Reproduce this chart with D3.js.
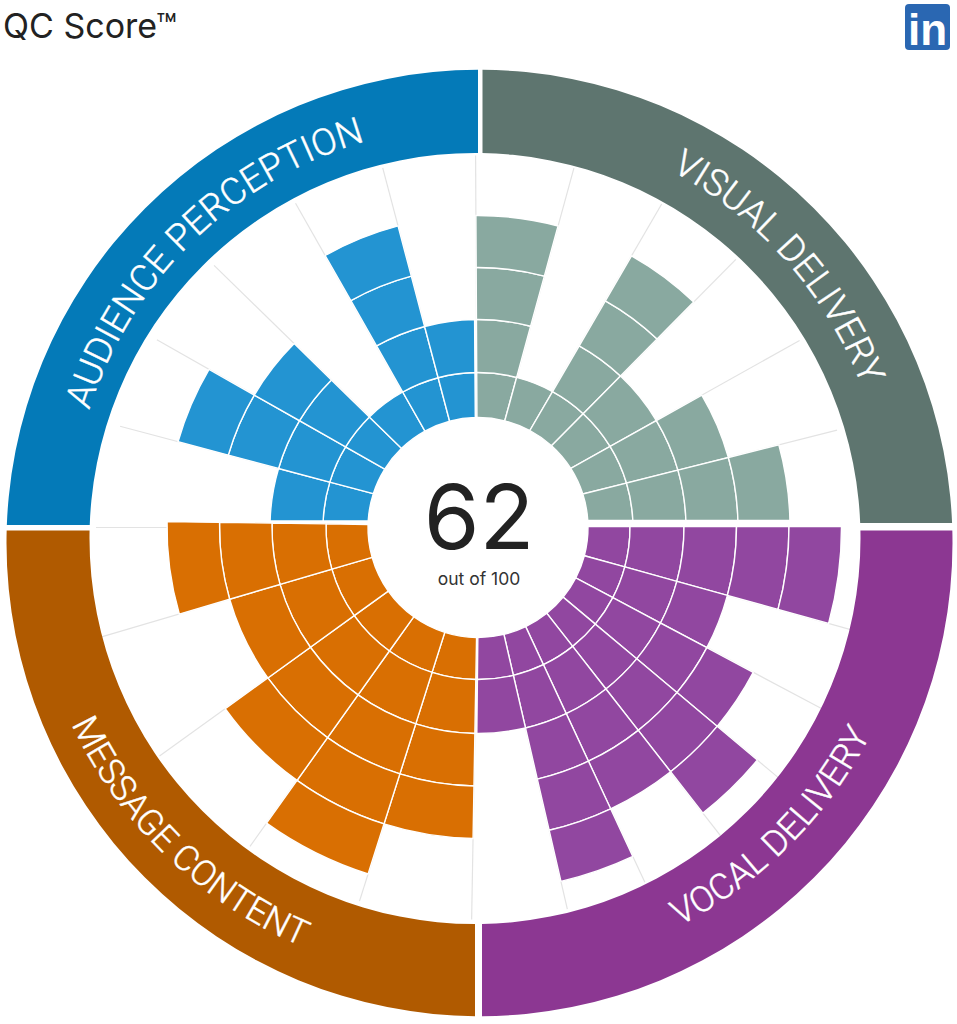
<!DOCTYPE html>
<html>
<head>
<meta charset="utf-8">
<title>QC Score</title>
<script src="https://cdn.jsdelivr.net/npm/d3@7"></script>
<style>
    body { margin: 0; background: #fff; }
    svg { display: block; }
    text { font-family: Inter, "Noto Sans", sans-serif; }
    .ring-label { font-family: Roboto, sans-serif; font-weight: 300; fill: #fff; stroke: #fff; stroke-width: 0.4; }
</style>
</head>
<body>
<div id="chart"></div>
<script>
// how many blocks each spoke fills, clockwise inside its category
const visualLevels = [4, 1, 4, 2, 3, 4];
const vocalLevels = [5, 3, 4, 5, 4, 5, 2];
const messageLevels = [4, 5, 4, 3, 4];
const audienceLevels = [2, 4, 3, 1, 4, 2];

const categoryNames = ["VISUAL DELIVERY", "VOCAL DELIVERY", "MESSAGE CONTENT", "AUDIENCE PERCEPTION"];
const levelSteps = [0, 1, 2, 3, 4, 5];
const score = "62";
const scoreCaption = "out of 100";

const width = 957, height = 1024;
const center = { x: 478, y: 527.5 };
const topRadii = [110, 155, 208, 260, 312, 364];
const bottomRadii = [110, 152, 206, 258.5, 311, 363.5];
const deg = Math.PI / 180;

const topScale = d3.scaleLinear().domain(levelSteps).range(topRadii);
const bottomScale = d3.scaleLinear().domain(levelSteps).range(bottomRadii);

// the spokes do not quite meet at the circle centre in the original, so each group has its own origin
const groups = [
    { name: categoryNames[0], levels: visualLevels, edges: [-0.3, 15.3, 30.2, 44.7, 60.8, 75.9, 90],
      origin: { x: 477.5, y: 520.5 }, r: topScale, gridEnd: 372,
      ring: "#5e756f", bar: "#89a9a0", clip: [482.5, 60, 480, 463], labelAt: 48.5, labelR: 411, labelSize: 37, flip: false },
    { name: categoryNames[1], levels: vocalLevels, edges: [90, 105.5, 118, 130, 142, 155, 167, 180.6],
      origin: { x: 479, y: 526.5 }, r: bottomScale, gridEnd: 392,
      ring: "#8c3792", bar: "#9147a0", clip: [482, 530.5, 480, 500], labelAt: 135, labelR: 441, labelSize: 35.5, flip: true },
    { name: categoryNames[2], levels: messageLevels, edges: [181, 197.6, 215.5, 234.2, 253.6, 270.8],
      origin: { x: 478.5, y: 526 }, r: bottomScale, gridEnd: 392,
      ring: "#b05a00", bar: "#d96f02", clip: [0, 530.5, 475, 500], labelAt: 224, labelR: 449, labelSize: 35.5, flip: true },
    { name: categoryNames[3], levels: audienceLevels, edges: [270, 284.9, 299.6, 314.3, 330.4, 345.2, 359.6],
      origin: { x: 476, y: 521 }, r: topScale, gridEnd: 372,
      ring: "#047ab8", bar: "#2394d2", clip: [0, 60, 478, 465], labelAt: -44.2, labelR: 408, labelSize: 37, flip: false }
];

const svg = d3.select("#chart").append("svg")
    .attr("width", width)
    .attr("height", height);

// point where a ray from the group origin crosses the circle of radius r round the centre
function crossing(origin, angle, r) {
    const dx = Math.sin(angle * deg), dy = -Math.cos(angle * deg);
    const ox = origin.x - center.x, oy = origin.y - center.y;
    const b = ox * dx + oy * dy;
    const t = -b + Math.sqrt(b * b - (ox * ox + oy * oy - r * r));
    return [origin.x + t * dx, origin.y + t * dy];
}

function thetaOf(point) {
    return Math.atan2(point[1] - center.y, point[0] - center.x);
}

function blockPath(origin, a0, a1, r0, r1) {
    const p = d3.path();
    p.arc(center.x, center.y, r0, thetaOf(crossing(origin, a0, r0)), thetaOf(crossing(origin, a1, r0)));
    p.arc(center.x, center.y, r1, thetaOf(crossing(origin, a1, r1)), thetaOf(crossing(origin, a0, r1)), true);
    p.closePath();
    return p.toString();
}

function drawSpokes(angles, origin, end) {
    svg.append("g").selectAll("line")
        .data(angles)
        .join("line")
        .attr("x1", a => crossing(origin, a, 112)[0])
        .attr("y1", a => crossing(origin, a, 112)[1])
        .attr("x2", a => crossing(origin, a, end)[0])
        .attr("y2", a => crossing(origin, a, end)[1])
        .attr("stroke", "#e3e3e3")
        .attr("stroke-width", 1.2);
}

// spokes; vocal and audience start without their own first line
groups.forEach(g => {
    const first = g.name === "VOCAL DELIVERY" || g.name === "AUDIENCE PERCEPTION" ? 1 : 0;
    drawSpokes(g.edges.slice(first, -1), g.origin, g.gridEnd);
});
drawSpokes([270], center, 382);

// bars, one block per level
groups.forEach(g => {
    const angle = d3.scaleLinear()
        .domain(d3.range(g.levels.length + 1))
        .range(g.edges);
    const blocks = g.levels.flatMap((n, i) => d3.range(n).map(level => ({ i, level })));
    svg.append("g").selectAll("path")
        .data(blocks)
        .join("path")
        .attr("d", d => blockPath(g.origin, angle(d.i), angle(d.i + 1), g.r(d.level), g.r(d.level + 1)))
        .attr("fill", g.bar)
        .attr("stroke", "#fff")
        .attr("stroke-width", 1.4);
});

// outer ring: the two edges of the band are not concentric in the original
const ringOuter = { x: 479.5, y: 543, r: 473 };
const ringInner = { x: 475, y: 538.5, r: 385.5 };
const defs = svg.append("defs");

groups.forEach((g, i) => {
    defs.append("clipPath").attr("id", `quad${i}`)
        .append("rect")
        .attr("x", g.clip[0]).attr("y", g.clip[1])
        .attr("width", g.clip[2]).attr("height", g.clip[3]);

    const p = d3.path();
    p.moveTo(ringOuter.x + ringOuter.r, ringOuter.y);
    p.arc(ringOuter.x, ringOuter.y, ringOuter.r, 0, 2 * Math.PI);
    p.moveTo(ringInner.x + ringInner.r, ringInner.y);
    p.arc(ringInner.x, ringInner.y, ringInner.r, 0, 2 * Math.PI);
    svg.append("path")
        .attr("d", p.toString())
        .attr("fill", g.ring)
        .attr("fill-rule", "evenodd")
        .attr("clip-path", `url(#quad${i})`);

    // label on a curve
    const mid = (g.labelAt - 90) * deg, half = 80 * deg;
    const c = d3.path();
    if (g.flip) {
        c.arc(center.x, center.y + 6, g.labelR, mid + half, mid - half, true);
    } else {
        c.arc(center.x, center.y + 6, g.labelR, mid - half, mid + half);
    }
    defs.append("path").attr("id", `labelPath${i}`).attr("d", c.toString());
    svg.append("text")
        .attr("class", "ring-label")
        .attr("font-size", g.labelSize)
        .append("textPath")
        .attr("href", `#labelPath${i}`)
        .attr("startOffset", "50%")
        .attr("text-anchor", "middle")
        .text(g.name);
});

// centre
svg.append("text")
    .attr("x", 479).attr("y", 548.5)
    .attr("text-anchor", "middle")
    .attr("font-size", 90)
    .attr("fill", "#222")
    .text(score);

svg.append("text")
    .attr("x", 479).attr("y", 585)
    .attr("text-anchor", "middle")
    .attr("font-size", 17.5)
    .attr("fill", "#333")
    .text(scoreCaption);

// header
svg.append("text")
    .attr("x", 3).attr("y", 38)
    .attr("font-size", 34)
    .attr("fill", "#222")
    .text("QC Score™");

const badge = svg.append("g");
badge.append("rect")
    .attr("x", 905).attr("y", 4)
    .attr("width", 45).attr("height", 46)
    .attr("rx", 4)
    .attr("fill", "#2a67b2");
badge.append("text")
    .attr("x", 927.5).attr("y", 44.5)
    .attr("text-anchor", "middle")
    .attr("font-size", 44)
    .attr("font-weight", 700)
    .attr("fill", "#fff")
    .style("font-family", "'Liberation Sans', sans-serif")
    .text("in");
</script>
</body>
</html>
